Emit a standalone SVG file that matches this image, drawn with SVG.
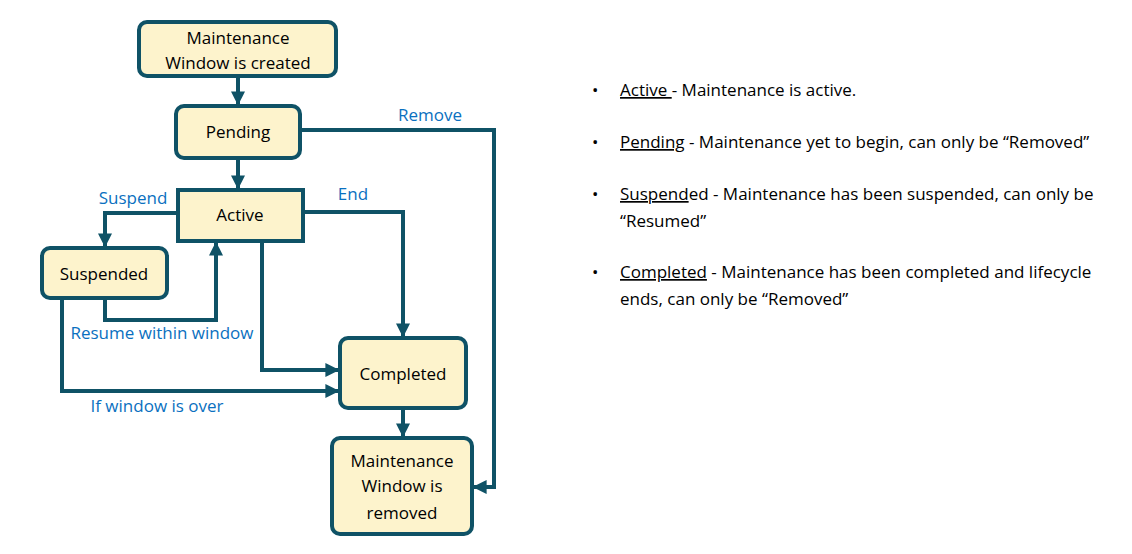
<svg xmlns="http://www.w3.org/2000/svg" width="1132" height="554" viewBox="0 0 1132 554">
<style>
.n{fill:#fdf3cc;stroke:#0f5266;stroke-width:4}
.t{font-family:"Open Sans","Liberation Sans",sans-serif;font-size:17px;fill:#000;text-anchor:middle}
.l{font-family:"Open Sans","Liberation Sans",sans-serif;font-size:17px;fill:#0a70c0;text-anchor:middle}
.c{fill:none;stroke:#0f5266;stroke-width:4}
.r{font-family:"Open Sans","Liberation Sans",sans-serif;font-size:17px;fill:#000}
</style>
<defs><marker id="a" viewBox="0 0 10 10" refX="9" refY="5" markerWidth="3.5" markerHeight="3.5" orient="auto"><path d="M0,0L10,5L0,10z" fill="#0f5266"/></marker></defs>
<rect width="1132" height="554" fill="#fff"/>
<g id="connectors">
<path class="c" marker-end="url(#a)" d="M238,76V104"/>
<path class="c" marker-end="url(#a)" d="M238,158V188"/>
<path class="c" marker-end="url(#a)" d="M300,130H494V487H474"/>
<path class="c" marker-end="url(#a)" d="M178,213H105V246"/>
<path class="c" marker-end="url(#a)" d="M105,298V320H216V243"/>
<path class="c" marker-end="url(#a)" d="M262,241V370H338"/>
<path class="c" marker-end="url(#a)" d="M62,298V391H338"/>
<path class="c" marker-end="url(#a)" d="M303,212H403V336"/>
<path class="c" marker-end="url(#a)" d="M403,408V436"/>
<text class="l" x="430" y="121">Remove</text>
<text class="l" x="133" y="204">Suspend</text>
<text class="l" x="353" y="200">End</text>
<text class="l" x="162" y="339">Resume within window</text>
<text class="l" x="157" y="412">If window is over</text>
</g>
<g id="created"><rect class="n" x="139" y="22" width="197" height="54" rx="8"/><text class="t" x="238" y="44">Maintenance</text><text class="t" x="238" y="69">Window is created</text></g>
<g id="pending"><rect class="n" x="176" y="106" width="124" height="52" rx="8"/><text class="t" x="238" y="138">Pending</text></g>
<g id="active"><rect class="n" x="178" y="190" width="125" height="51"/><text class="t" x="240" y="221">Active</text></g>
<g id="suspended"><rect class="n" x="42" y="248" width="125" height="50" rx="8"/><text class="t" x="104" y="280">Suspended</text></g>
<g id="completed"><rect class="n" x="340" y="338" width="126" height="70" rx="8"/><text class="t" x="403" y="380">Completed</text></g>
<g id="removed"><rect class="n" x="332" y="438" width="140" height="96" rx="8"/><text class="t" x="402" y="467">Maintenance</text><text class="t" x="402" y="492">Window is</text><text class="t" x="402" y="519">removed</text></g>
<g id="notes">
<text class="r" x="592" y="96">•</text><text class="r" x="620" y="96"><tspan text-decoration="underline">Active </tspan> -  Maintenance is active.</text>
<text class="r" x="592" y="148">•</text><text class="r" x="620" y="148"><tspan text-decoration="underline">Pending</tspan> - Maintenance yet to begin, can only be “Removed”</text>
<text class="r" x="592" y="200">•</text><text class="r" x="620" y="200"><tspan text-decoration="underline">Suspend</tspan>ed - Maintenance has been suspended, can only be</text>
<text class="r" x="620" y="227">“Resumed”</text>
<text class="r" x="592" y="278">•</text><text class="r" x="620" y="278"><tspan text-decoration="underline">Completed</tspan> - Maintenance has been completed and lifecycle</text>
<text class="r" x="620" y="305">ends, can only be “Removed”</text>
</g>
</svg>
